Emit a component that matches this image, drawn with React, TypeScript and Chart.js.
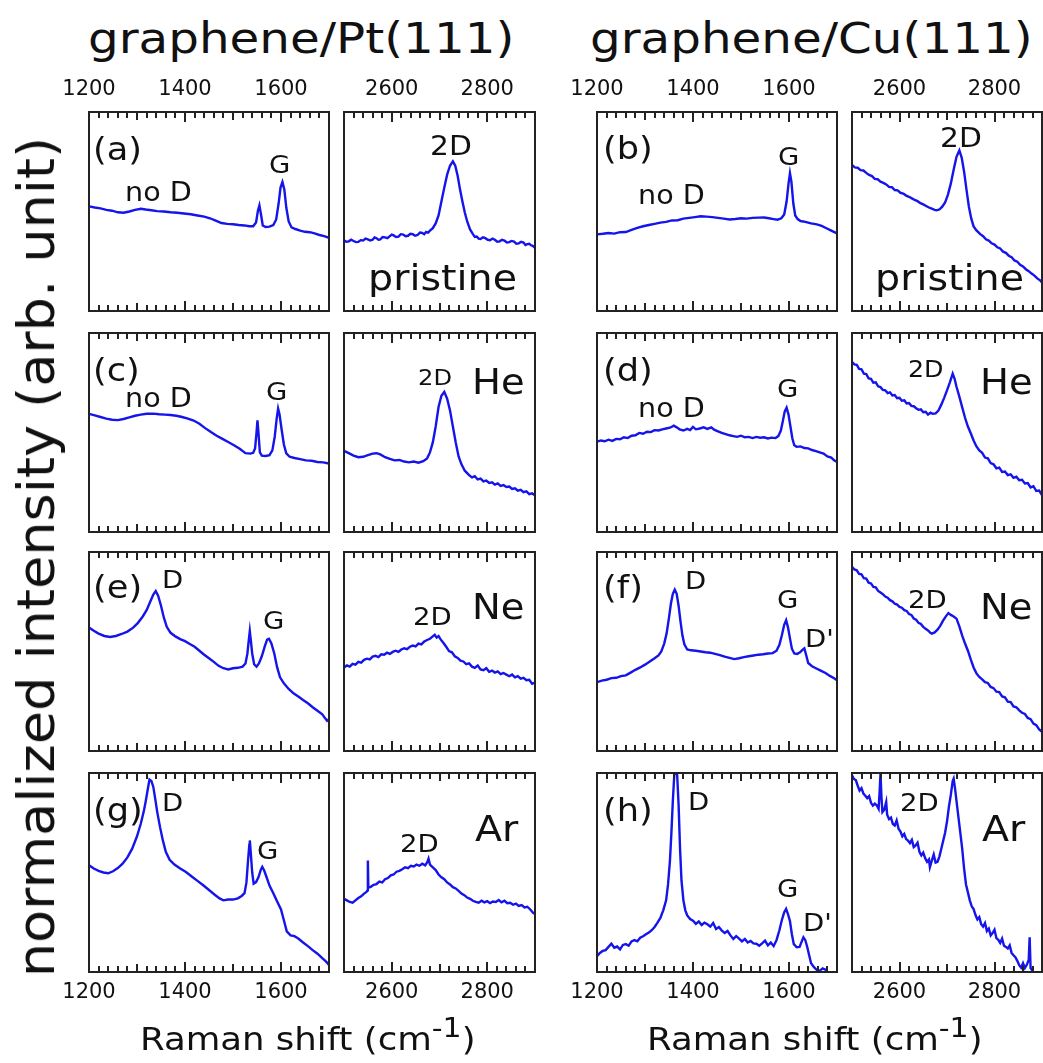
import React, { useEffect, useRef } from 'react';
import { Chart, registerables } from 'chart.js';

Chart.register(...registerables);

// ---------------- data: [Raman shift (cm-1), normalized intensity] ----------------
const PT_PRISTINE_G = [[1200,52.6],[1212,52.0],[1224,51.6],[1236,50.8],[1248,50.4],[1260,49.6],[1272,49.4],[1284,50.0],[1296,50.8],[1308,51.4],[1318,51.0],[1330,50.6],[1342,50.2],[1356,50.0],[1370,49.6],[1384,49.4],[1398,49.0],[1412,48.6],[1426,48.0],[1440,47.4],[1452,46.6],[1464,45.4],[1476,44.2],[1488,43.8],[1500,43.6],[1512,43.2],[1524,43.0],[1534,42.6],[1542,42.6],[1548,44.5],[1552,50.5],[1555,53.1],[1558,49.0],[1562,43.0],[1568,42.2],[1576,42.4],[1584,43.2],[1590,46.0],[1595,54.0],[1599,62.0],[1603,64.8],[1607,61.0],[1611,52.0],[1616,45.0],[1622,42.0],[1630,41.2],[1640,40.4],[1650,39.8],[1660,39.6],[1670,39.0],[1680,38.2],[1690,37.6],[1700,36.8]];
const PT_PRISTINE_2D = [[2500,35.5],[2505,34.8],[2510,35.0],[2515,35.8],[2520,35.2],[2525,34.6],[2530,34.7],[2535,35.6],[2540,35.4],[2545,36.4],[2550,36.0],[2555,35.4],[2560,35.8],[2564,37.0],[2568,36.6],[2572,35.8],[2576,36.0],[2581,37.2],[2586,37.0],[2591,36.6],[2596,37.6],[2600,38.4],[2604,38.0],[2609,37.2],[2614,37.4],[2619,38.6],[2624,38.4],[2629,37.6],[2634,37.8],[2639,38.8],[2644,38.6],[2649,37.8],[2654,38.2],[2659,39.4],[2664,39.2],[2668,38.6],[2672,39.7],[2676,39.4],[2680,40.4],[2686,41.6],[2692,44.0],[2698,48.0],[2704,55.0],[2710,62.0],[2716,68.5],[2722,73.0],[2728,75.2],[2733,73.0],[2738,68.0],[2743,61.0],[2748,55.0],[2753,49.5],[2758,45.0],[2764,41.0],[2770,38.6],[2774,37.2],[2778,37.4],[2782,36.4],[2786,36.2],[2791,37.0],[2796,36.6],[2801,35.8],[2806,35.6],[2811,36.4],[2816,35.8],[2821,34.8],[2826,35.0],[2831,35.8],[2836,35.4],[2841,34.4],[2846,34.6],[2851,35.2],[2856,34.9],[2861,33.8],[2866,34.0],[2871,34.8],[2876,34.4],[2880,33.2],[2884,33.6],[2888,33.8],[2892,33.0],[2896,32.6],[2900,31.8]];
const CU_PRISTINE_G = [[1200,38.5],[1212,38.8],[1224,39.2],[1236,38.9],[1248,39.6],[1260,39.7],[1272,40.8],[1284,41.8],[1296,42.6],[1308,43.2],[1320,43.8],[1332,44.4],[1344,44.8],[1356,45.5],[1368,45.6],[1380,46.4],[1392,46.8],[1404,47.2],[1416,47.6],[1428,47.4],[1440,47.2],[1452,46.8],[1464,46.4],[1476,46.0],[1488,46.2],[1500,46.6],[1512,46.4],[1524,46.8],[1536,46.9],[1548,47.0],[1558,46.6],[1568,46.2],[1576,45.9],[1584,46.6],[1590,48.5],[1595,55.0],[1599,64.0],[1602,69.3],[1605,65.0],[1609,54.0],[1613,48.0],[1618,46.2],[1624,45.2],[1634,44.8],[1646,44.0],[1658,43.5],[1668,42.8],[1678,41.6],[1688,40.4],[1700,39.0]];
const CU_PRISTINE_2D = [[2500,73.4],[2506,72.2],[2512,72.0],[2518,70.8],[2524,70.6],[2530,69.4],[2536,68.4],[2542,67.8],[2548,66.4],[2554,66.2],[2560,65.0],[2566,64.4],[2572,63.6],[2578,62.4],[2584,62.2],[2590,60.8],[2596,60.6],[2602,59.4],[2608,59.0],[2614,58.0],[2620,57.4],[2626,56.6],[2632,55.8],[2638,55.2],[2644,54.2],[2650,53.6],[2656,52.8],[2662,52.0],[2668,51.4],[2674,50.8],[2678,50.6],[2684,51.0],[2690,52.4],[2696,54.5],[2702,58.5],[2708,64.0],[2714,71.0],[2720,77.5],[2726,80.7],[2731,77.0],[2736,70.0],[2741,61.0],[2746,52.5],[2751,46.5],[2756,42.5],[2762,40.5],[2770,38.6],[2776,37.6],[2782,36.0],[2788,35.4],[2794,34.0],[2800,33.4],[2806,32.0],[2812,31.4],[2818,29.8],[2824,29.2],[2830,27.8],[2836,27.0],[2842,25.4],[2848,24.8],[2854,23.2],[2860,22.4],[2866,21.0],[2872,20.0],[2878,18.8],[2884,17.8],[2890,16.4],[2896,15.4],[2900,14.4]];

const PT_HE_G = [[1200,59.4],[1212,58.6],[1224,57.8],[1236,57.0],[1248,56.4],[1260,56.2],[1272,56.8],[1284,57.6],[1296,58.4],[1308,59.0],[1320,59.4],[1334,59.5],[1346,59.2],[1358,59.0],[1370,58.8],[1382,58.4],[1394,57.8],[1406,57.0],[1418,56.0],[1430,54.4],[1442,52.2],[1454,50.2],[1466,48.4],[1478,46.8],[1490,45.2],[1502,43.6],[1514,41.8],[1526,39.6],[1536,39.4],[1542,39.8],[1546,42.0],[1549,50.0],[1551,56.1],[1553,50.0],[1556,40.0],[1560,38.4],[1568,38.2],[1576,38.6],[1582,41.0],[1587,48.0],[1591,57.0],[1594,62.0],[1597,59.0],[1601,52.0],[1606,44.0],[1611,39.5],[1618,37.8],[1628,37.2],[1640,36.6],[1652,36.0],[1664,35.8],[1676,35.2],[1688,35.0],[1700,34.4]];
const PT_HE_2D = [[2500,40.8],[2510,39.6],[2520,38.4],[2530,37.6],[2540,37.8],[2550,38.6],[2560,39.4],[2568,39.6],[2576,39.0],[2586,37.6],[2596,36.8],[2606,36.0],[2616,36.2],[2626,35.4],[2636,35.0],[2646,35.4],[2656,34.8],[2666,35.6],[2674,37.0],[2680,40.0],[2686,45.0],[2692,53.0],[2698,62.8],[2704,68.5],[2710,70.4],[2716,67.0],[2722,61.1],[2728,53.0],[2734,45.0],[2740,38.0],[2746,34.0],[2753,30.8],[2762,28.6],[2768,27.4],[2774,28.0],[2780,26.4],[2786,26.8],[2792,25.4],[2798,25.8],[2804,24.6],[2810,25.0],[2816,23.8],[2822,24.4],[2828,23.2],[2834,23.6],[2840,22.6],[2846,22.8],[2852,21.6],[2858,22.0],[2864,20.8],[2870,21.2],[2876,20.0],[2882,20.4],[2888,19.0],[2894,19.4],[2900,18.4]];
const CU_HE_G = [[1200,45.4],[1208,46.0],[1216,45.6],[1224,46.4],[1232,45.8],[1240,46.8],[1248,46.6],[1256,47.6],[1264,47.2],[1272,48.4],[1280,48.6],[1288,49.8],[1296,49.4],[1304,50.4],[1312,50.2],[1320,51.2],[1328,51.0],[1336,51.6],[1344,52.0],[1352,52.4],[1360,53.4],[1366,52.6],[1372,51.6],[1380,51.0],[1388,51.8],[1394,51.2],[1400,52.8],[1406,51.6],[1414,52.0],[1422,52.6],[1430,51.8],[1438,52.6],[1444,51.4],[1452,50.6],[1460,49.8],[1468,49.2],[1476,48.6],[1484,48.2],[1492,47.8],[1500,48.4],[1508,47.6],[1516,47.8],[1524,47.2],[1532,47.8],[1540,47.4],[1548,47.6],[1556,47.0],[1564,47.4],[1572,47.2],[1578,48.2],[1583,51.0],[1587,55.5],[1591,60.5],[1595,62.5],[1599,59.0],[1603,53.0],[1607,47.0],[1611,43.6],[1616,42.8],[1624,43.0],[1632,42.2],[1640,42.0],[1648,41.2],[1656,40.6],[1664,40.0],[1672,39.4],[1680,38.0],[1688,37.4],[1694,36.0],[1700,35.2]];
const CU_HE_2D = [[2500,85.6],[2505,84.2],[2510,84.0],[2515,82.0],[2520,81.8],[2525,79.6],[2530,79.4],[2535,77.2],[2540,77.0],[2545,75.0],[2550,75.2],[2555,73.2],[2560,72.8],[2565,71.4],[2570,71.2],[2575,69.8],[2580,70.2],[2585,68.6],[2590,68.8],[2595,67.2],[2600,67.4],[2605,66.0],[2610,66.2],[2615,64.6],[2620,64.8],[2625,63.4],[2630,63.2],[2635,62.2],[2640,61.4],[2645,61.6],[2650,60.2],[2655,60.4],[2660,59.0],[2665,60.0],[2670,59.4],[2676,59.6],[2682,61.0],[2688,64.0],[2694,67.4],[2700,71.2],[2706,75.2],[2712,79.6],[2716,77.0],[2720,73.0],[2726,68.0],[2732,62.6],[2738,57.4],[2744,53.0],[2750,49.6],[2756,46.0],[2762,43.0],[2768,41.0],[2774,39.8],[2780,37.4],[2786,37.0],[2792,34.6],[2798,34.0],[2804,32.0],[2810,32.4],[2816,30.2],[2822,30.4],[2828,28.6],[2834,29.0],[2840,27.2],[2846,27.8],[2852,26.0],[2858,26.2],[2864,24.4],[2870,24.6],[2876,22.4],[2882,23.0],[2888,20.6],[2894,20.8],[2900,18.6]];

const PT_NE_G = [[1200,62.0],[1210,60.4],[1220,59.0],[1232,57.8],[1244,57.3],[1256,57.8],[1268,58.8],[1280,60.0],[1292,62.0],[1302,64.4],[1312,67.6],[1320,70.8],[1328,75.2],[1334,78.6],[1339,80.4],[1344,78.0],[1350,73.0],[1356,67.0],[1362,62.4],[1370,59.4],[1380,57.6],[1390,56.2],[1400,55.2],[1410,53.8],[1420,52.4],[1430,50.4],[1440,48.4],[1450,46.6],[1460,44.8],[1470,42.8],[1480,41.6],[1490,41.0],[1500,41.6],[1510,41.8],[1520,42.4],[1526,44.0],[1530,49.0],[1533,56.0],[1535,60.3],[1537,56.0],[1540,49.0],[1544,43.6],[1549,42.4],[1554,44.0],[1560,47.6],[1566,52.4],[1571,56.0],[1575,56.4],[1580,54.0],[1586,49.0],[1592,42.0],[1598,37.0],[1606,34.0],[1616,31.2],[1626,29.0],[1636,27.4],[1646,25.6],[1656,24.0],[1666,22.0],[1676,20.2],[1686,18.4],[1692,16.4],[1696,15.2],[1700,16.0]];
const PT_NE_2D = [[2500,42.0],[2506,43.0],[2512,42.4],[2518,43.8],[2524,43.4],[2530,44.8],[2536,44.4],[2542,45.8],[2548,46.4],[2554,46.0],[2560,47.4],[2566,47.8],[2572,47.2],[2578,48.6],[2584,48.4],[2590,49.4],[2596,48.8],[2602,49.8],[2608,50.4],[2614,49.8],[2620,51.0],[2626,51.6],[2632,51.2],[2638,52.4],[2644,53.0],[2650,52.6],[2656,54.0],[2662,53.6],[2668,55.0],[2674,55.8],[2680,56.4],[2686,57.6],[2690,58.4],[2694,57.0],[2698,57.8],[2702,56.2],[2708,54.4],[2714,52.4],[2720,50.2],[2726,49.6],[2732,47.6],[2738,46.8],[2744,45.4],[2750,45.0],[2756,43.6],[2762,44.0],[2768,42.4],[2774,41.8],[2780,43.0],[2786,41.0],[2792,40.6],[2798,41.6],[2804,39.8],[2810,40.4],[2816,39.4],[2822,40.0],[2828,38.6],[2834,39.2],[2840,38.4],[2846,37.6],[2852,38.4],[2858,37.0],[2864,37.6],[2870,36.4],[2876,36.8],[2882,35.6],[2888,35.8],[2894,33.8],[2900,34.4]];
const CU_NE_G = [[1200,34.6],[1210,35.4],[1220,35.8],[1230,36.6],[1240,36.8],[1250,37.6],[1260,38.0],[1270,39.4],[1280,40.8],[1290,42.0],[1300,43.4],[1310,45.0],[1320,46.6],[1328,48.0],[1334,50.0],[1340,54.0],[1345,59.0],[1350,67.0],[1354,74.1],[1358,79.0],[1362,81.1],[1366,79.0],[1370,73.0],[1374,65.0],[1378,58.0],[1382,53.6],[1388,51.0],[1396,50.6],[1406,50.4],[1416,50.0],[1426,49.6],[1436,49.4],[1446,48.8],[1456,48.2],[1466,47.4],[1476,46.8],[1486,46.2],[1496,46.6],[1506,47.2],[1516,47.6],[1526,48.0],[1536,48.4],[1546,48.6],[1556,49.0],[1566,49.2],[1574,50.4],[1580,53.4],[1585,58.0],[1590,63.4],[1594,65.7],[1598,62.0],[1602,56.6],[1606,51.4],[1611,49.0],[1617,48.8],[1623,49.6],[1628,50.8],[1632,51.6],[1636,48.0],[1640,44.2],[1648,42.6],[1656,41.6],[1666,40.4],[1676,39.2],[1686,37.6],[1694,36.6],[1700,35.6]];
const CU_NE_2D = [[2500,92.6],[2505,91.2],[2510,90.8],[2515,89.0],[2520,88.8],[2525,86.8],[2530,86.6],[2535,84.6],[2540,84.2],[2545,82.4],[2550,82.2],[2555,80.4],[2560,79.6],[2565,78.8],[2570,77.6],[2575,77.0],[2580,75.8],[2585,75.2],[2590,74.0],[2595,73.6],[2600,72.4],[2605,72.0],[2610,70.8],[2615,70.4],[2620,68.8],[2625,68.4],[2630,66.6],[2635,66.0],[2640,64.4],[2645,63.8],[2650,62.4],[2655,61.4],[2660,60.6],[2665,59.4],[2668,59.0],[2674,59.6],[2680,61.0],[2686,63.0],[2692,65.6],[2698,67.8],[2703,69.3],[2708,68.4],[2714,67.6],[2720,66.5],[2726,62.6],[2732,58.0],[2738,54.0],[2744,50.4],[2750,46.0],[2756,42.0],[2762,39.0],[2768,37.2],[2774,36.0],[2780,34.6],[2786,34.2],[2792,32.2],[2798,31.6],[2804,29.8],[2810,29.6],[2816,27.4],[2822,27.0],[2828,24.8],[2834,24.6],[2840,22.4],[2846,22.0],[2852,20.4],[2858,19.2],[2864,18.6],[2870,16.6],[2876,16.0],[2882,13.8],[2888,13.0],[2894,10.8],[2900,9.6]];

const PT_AR_G = [[1200,53.6],[1210,52.0],[1220,50.8],[1230,50.0],[1240,49.6],[1250,50.6],[1260,52.2],[1270,54.4],[1280,57.6],[1290,62.0],[1300,68.2],[1308,74.6],[1314,80.6],[1318,85.6],[1322,91.2],[1326,96.7],[1330,96.0],[1334,93.0],[1338,87.0],[1342,80.6],[1348,72.8],[1354,66.0],[1360,60.4],[1368,56.4],[1378,54.0],[1390,52.0],[1402,50.2],[1414,48.0],[1426,45.8],[1438,43.6],[1450,41.2],[1462,38.8],[1472,37.0],[1480,36.0],[1490,36.4],[1500,36.4],[1510,37.0],[1518,38.2],[1524,39.6],[1528,45.0],[1531,55.0],[1534,64.0],[1535,66.1],[1537,60.0],[1540,50.0],[1543,44.4],[1548,45.2],[1553,47.6],[1558,51.4],[1561,52.8],[1565,51.0],[1570,47.6],[1576,43.4],[1584,39.6],[1592,35.4],[1600,31.4],[1606,26.0],[1612,20.4],[1620,18.4],[1628,18.0],[1636,16.8],[1646,14.8],[1656,13.0],[1666,11.0],[1676,9.2],[1686,7.0],[1694,5.2],[1700,3.6]];
const PT_AR_2D = [[2500,36.8],[2506,36.0],[2512,35.2],[2518,34.8],[2524,36.0],[2530,37.2],[2536,38.0],[2542,39.4],[2547,40.2],[2549,41.0],[2550,56.0],[2551,42.4],[2556,42.8],[2562,43.8],[2568,44.2],[2574,45.4],[2580,45.0],[2586,46.6],[2592,47.2],[2598,48.6],[2604,49.0],[2610,50.4],[2616,50.8],[2622,51.6],[2628,52.6],[2634,52.2],[2640,53.4],[2646,53.0],[2652,54.0],[2658,53.4],[2664,54.4],[2670,53.6],[2674,55.0],[2677,57.0],[2680,54.0],[2686,52.6],[2692,51.2],[2698,49.0],[2704,47.6],[2710,46.6],[2716,45.0],[2722,44.0],[2728,42.6],[2734,42.0],[2740,40.8],[2746,39.4],[2752,38.6],[2758,37.4],[2764,36.8],[2770,35.8],[2776,35.2],[2782,34.8],[2788,35.8],[2794,35.0],[2800,35.6],[2806,34.6],[2812,35.4],[2818,35.2],[2824,36.2],[2830,35.0],[2836,35.8],[2842,34.6],[2848,34.8],[2854,33.8],[2860,34.4],[2866,33.2],[2872,33.6],[2878,32.4],[2884,32.8],[2890,31.4],[2896,29.8],[2900,29.2]];
const CU_AR_G = [[1200,8.0],[1206,9.6],[1212,10.6],[1218,11.0],[1224,12.6],[1230,14.2],[1236,12.2],[1242,12.8],[1248,11.4],[1254,13.6],[1260,14.0],[1266,13.2],[1272,15.4],[1278,16.0],[1284,15.4],[1290,17.2],[1296,18.0],[1302,19.0],[1308,19.8],[1314,21.0],[1320,22.6],[1326,24.8],[1332,27.2],[1338,31.0],[1344,36.0],[1348,44.0],[1352,56.0],[1355,70.0],[1358,86.0],[1361,99.0],[1364,101.0],[1367,99.0],[1370,84.0],[1373,62.0],[1376,46.0],[1380,36.0],[1384,31.0],[1388,28.4],[1394,26.6],[1400,25.8],[1406,24.2],[1412,25.4],[1418,23.6],[1424,24.8],[1430,24.0],[1436,22.8],[1442,24.6],[1448,21.6],[1454,22.6],[1460,20.8],[1466,19.6],[1472,20.6],[1478,18.4],[1484,16.6],[1490,18.0],[1496,16.8],[1502,15.4],[1508,16.6],[1514,14.8],[1520,15.6],[1526,14.4],[1532,14.2],[1538,13.2],[1544,14.4],[1550,15.8],[1556,13.4],[1562,14.8],[1568,13.0],[1574,16.0],[1580,21.0],[1585,26.0],[1590,30.0],[1594,31.7],[1598,29.0],[1602,25.6],[1606,19.0],[1610,14.0],[1616,12.4],[1622,12.6],[1626,15.0],[1630,17.4],[1634,16.0],[1638,12.6],[1642,8.4],[1646,4.4],[1652,2.4],[1658,1.0],[1664,0.6],[1670,1.8],[1676,1.2],[1680,-1.0],[1690,-6.0],[1700,-8.0]];
const CU_AR_2D = [[2500,98.8],[2504,97.0],[2508,96.4],[2512,93.6],[2516,91.2],[2520,92.4],[2524,89.6],[2528,88.6],[2532,87.4],[2536,88.4],[2540,85.0],[2544,83.6],[2548,84.6],[2552,83.8],[2556,82.0],[2558,90.0],[2560,99.7],[2562,88.0],[2564,80.4],[2568,81.6],[2572,85.4],[2574,79.0],[2578,76.8],[2582,77.6],[2586,74.4],[2590,73.6],[2594,76.2],[2598,72.0],[2602,70.6],[2606,68.2],[2610,69.4],[2614,66.8],[2618,66.0],[2622,64.8],[2626,66.4],[2630,62.8],[2634,63.6],[2638,65.0],[2642,60.4],[2646,58.6],[2650,60.0],[2654,57.2],[2658,55.4],[2662,56.6],[2664,52.7],[2668,56.0],[2672,59.0],[2676,55.0],[2680,55.4],[2684,58.0],[2688,61.9],[2692,66.0],[2696,70.0],[2700,75.6],[2704,83.0],[2708,89.0],[2712,96.0],[2714,97.2],[2717,92.0],[2720,86.0],[2724,78.0],[2728,70.0],[2732,62.0],[2736,52.0],[2740,44.0],[2744,40.0],[2748,36.0],[2752,33.0],[2756,31.6],[2760,28.6],[2764,26.4],[2768,27.6],[2772,24.0],[2776,22.8],[2780,24.6],[2784,20.6],[2788,21.8],[2792,18.4],[2796,19.6],[2800,21.2],[2804,17.0],[2808,16.2],[2812,14.6],[2816,16.8],[2820,13.2],[2824,12.6],[2828,11.8],[2832,13.4],[2836,9.6],[2840,8.4],[2844,7.4],[2848,5.6],[2852,3.4],[2856,2.2],[2860,4.4],[2864,2.0],[2868,3.6],[2872,6.0],[2874,17.4],[2876,2.0],[2880,0.6],[2884,-1.0],[2888,-4.0],[2900,-10.0]];

// axis ranges and tick labels
const LOW_RANGE = [1200, 1700];
const HIGH_RANGE = [2500, 2900];
const LOW_TICK_LABELS = [1200, 1400, 1600];
const HIGH_TICK_LABELS = [2600, 2800];

// ---------------- layout ----------------
const FONT = '"DejaVu Sans", Verdana, sans-serif';
const LINE_COLOR = 'rgb(20,20,235)';
const FRAME_COLOR = '#222';
const PADX = 45;
const PADY = 4;
const AXIS_H = 40;
const PANEL_H = 199;
const ROW_TOPS = [112, 333, 552, 773];
const COLS = [
  { left: 89, width: 240, range: LOW_RANGE, ticks: LOW_TICK_LABELS },
  { left: 344, width: 191, range: HIGH_RANGE, ticks: HIGH_TICK_LABELS },
  { left: 597, width: 240, range: LOW_RANGE, ticks: LOW_TICK_LABELS },
  { left: 852, width: 190, range: HIGH_RANGE, ticks: HIGH_TICK_LABELS },
];
const GRID_DATA = [
  [PT_PRISTINE_G, PT_PRISTINE_2D, CU_PRISTINE_G, CU_PRISTINE_2D],
  [PT_HE_G, PT_HE_2D, CU_HE_G, CU_HE_2D],
  [PT_NE_G, PT_NE_2D, CU_NE_G, CU_NE_2D],
  [PT_AR_G, PT_AR_2D, CU_AR_G, CU_AR_2D],
];

// annotation texts: [text, left x, baseline y, font size]
const NOTES: Array<[string, number, number, number]> = [
  ['(a)', 93, 160, 32], ['no D', 125, 201, 26], ['G', 269, 173, 25], ['2D', 430, 155, 27], ['pristine', 368, 290, 36],
  ['(b)', 603, 159, 32], ['no D', 638, 204, 26], ['G', 778, 165, 25], ['2D', 940, 147, 27], ['pristine', 875, 290, 36],
  ['(c)', 93, 381, 32], ['no D', 125, 407, 26], ['G', 266, 400, 25], ['2D', 418, 386, 22], ['He', 472, 395, 35],
  ['(d)', 603, 381, 32], ['no D', 638, 417, 26], ['G', 777, 397, 25], ['2D', 908, 377, 23], ['He', 980, 395, 35],
  ['(e)', 93, 598, 32], ['D', 162, 588, 25], ['G', 263, 629, 25], ['2D', 413, 625, 25], ['Ne', 472, 620, 35],
  ['(f)', 603, 598, 32], ['D', 685, 589, 25], ['G', 777, 608, 25], ["D'", 805, 647, 25], ['2D', 908, 608, 25], ['Ne', 980, 620, 35],
  ['(g)', 93, 821, 32], ['D', 162, 811, 25], ['G', 257, 859, 25], ['2D', 400, 852, 25], ['Ar', 475, 841, 36],
  ['(h)', 603, 821, 32], ['D', 688, 810, 25], ['G', 777, 897, 25], ["D'", 803, 931, 25], ['2D', 900, 811, 25], ['Ar', 982, 841, 36],
];

const framePlugin = {
  id: 'innerFrame',
  afterDraw(chart: any) {
    const { ctx, chartArea } = chart;
    const { left, right, top, bottom } = chartArea;
    const x = chart.scales.x;
    ctx.save();
    ctx.fillStyle = FRAME_COLOR;
    for (let v = Math.ceil(x.min / 20) * 20; v <= x.max; v += 20) {
      const px = Math.round(x.getPixelForValue(v));
      const len = v % 200 === 0 ? 10 : v % 100 === 0 ? 8 : 6;
      ctx.fillRect(px - 1, top, 2, len);
      ctx.fillRect(px - 1, bottom - len, 2, len);
    }
    ctx.strokeStyle = FRAME_COLOR;
    ctx.lineWidth = 2;
    ctx.strokeRect(left, top, right - left, bottom - top);
    ctx.restore();
  },
};

function Panel({ row, colIndex }: { row: number; colIndex: number }) {
  const ref = useRef<HTMLCanvasElement>(null);
  const col = COLS[colIndex];
  const data = GRID_DATA[row][colIndex];
  const axis = row === 0 ? 'top' : row === 3 ? 'bottom' : null;
  const W = col.width + 2 * PADX;
  const H = PANEL_H + 2 * PADY + (axis ? AXIS_H : 0);
  const left = col.left - PADX;
  const top = ROW_TOPS[row] - PADY - (axis === 'top' ? AXIS_H : 0);

  useEffect(() => {
    const canvas = ref.current;
    if (!canvas) return;
    const chart = new Chart(canvas, {
      type: 'line',
      data: {
        datasets: [
          {
            data: data.map(([x, y]) => ({ x, y })),
            borderColor: LINE_COLOR,
            borderWidth: 2.4,
            pointRadius: 0,
            tension: 0,
            fill: false,
          },
        ],
      },
      options: {
        responsive: false,
        maintainAspectRatio: false,
        animation: false,
        devicePixelRatio: 1,
        events: [],
        layout: { padding: { left: PADX, right: PADX, top: PADY, bottom: PADY } },
        plugins: { legend: { display: false }, tooltip: { enabled: false } },
        scales: {
          x: {
            type: 'linear',
            min: col.range[0],
            max: col.range[1],
            display: axis !== null,
            position: axis === 'top' ? 'top' : 'bottom',
            grid: { display: false, drawTicks: false },
            border: { display: false },
            ticks: {
              font: { family: FONT, size: 21 },
              color: '#111',
              padding: axis === 'top' ? 10 : 8,
              maxRotation: 0,
              autoSkip: false,
              callback: (v: any) => String(v),
            },
            afterBuildTicks: (s: any) => {
              s.ticks = col.ticks.map((value) => ({ value }));
            },
            afterFit: (s: any) => {
              if (axis) s.height = AXIS_H;
            },
          },
          y: { type: 'linear', display: false, min: 0, max: 100 },
        },
      },
      plugins: [framePlugin],
    } as any);
    return () => chart.destroy();
  }, []);

  return (
    <canvas
      ref={ref}
      width={W}
      height={H}
      style={{ position: 'absolute', left, top, width: W, height: H }}
    />
  );
}

function Txt({ text, x, base, size, sx = 1.1 }: { text: React.ReactNode; x: number; base: number; size: number; sx?: number }) {
  return (
    <div
      style={{
        position: 'absolute',
        left: x,
        top: base - 0.846 * size,
        fontFamily: FONT,
        fontSize: size,
        lineHeight: `${size}px`,
        whiteSpace: 'nowrap',
        color: '#111',
        transform: `scaleX(${sx})`,
        transformOrigin: 'left top',
      }}
    >
      {text}
    </div>
  );
}

function XTitle({ x }: { x: number }) {
  return (
    <Txt
      x={x}
      base={1050}
      size={32}
      sx={1.11}
      text={
        <>
          Raman shift (cm
          <span style={{ fontSize: 27, lineHeight: '27px', position: 'relative', top: -13 }}>-1</span>)
        </>
      }
    />
  );
}

export default function App() {
  const panels = [];
  for (let r = 0; r < 4; r++) {
    for (let c = 0; c < 4; c++) {
      panels.push(<Panel key={`${r}-${c}`} row={r} colIndex={c} />);
    }
  }
  return (
    <div
      style={{
        position: 'absolute',
        left: 0,
        top: 0,
        width: 1043,
        height: 1063,
        background: '#fff',
        overflow: 'hidden',
      }}
    >
      {panels}
      <Txt text="graphene/Pt(111)" x={88} base={53} size={43} sx={1.125} />
      <Txt text="graphene/Cu(111)" x={590} base={53} size={43} sx={1.125} />
      <div
        style={{
          position: 'absolute',
          left: 36,
          top: 557,
          fontFamily: FONT,
          fontSize: 52,
          lineHeight: '52px',
          whiteSpace: 'nowrap',
          color: '#111',
          transform: 'translate(-50%, -50%) rotate(-90deg) scaleX(1.04)',
        }}
      >
        normalized intensity (arb. unit)
      </div>
      {NOTES.map(([t, x, b, s], i) => (
        <Txt key={i} text={t} x={x} base={b} size={s} />
      ))}
      <XTitle x={140} />
      <XTitle x={647} />
    </div>
  );
}
